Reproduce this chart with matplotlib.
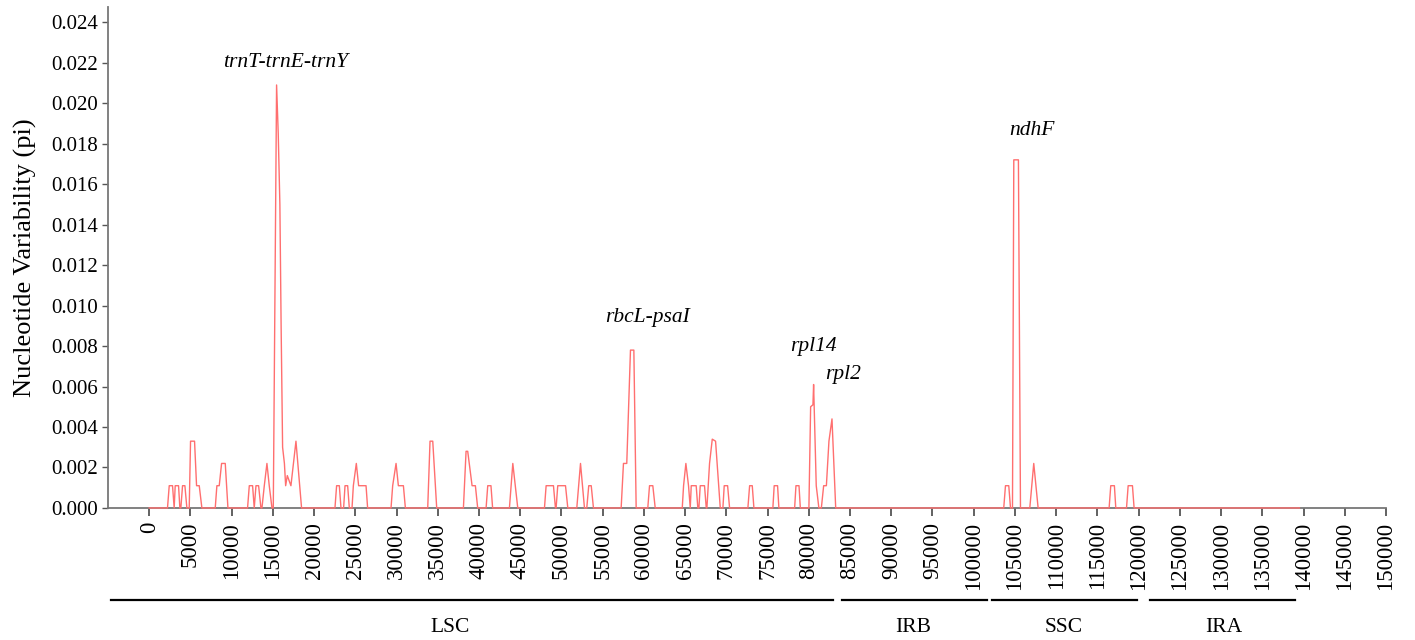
import matplotlib
matplotlib.use("Agg")
import matplotlib.pyplot as plt
import matplotlib.transforms as mtransforms

plt.rcParams['font.family'] = ['Liberation Serif', 'DejaVu Serif']

# sliding-window breakpoints (position in bp, pi)
pos = [0,
       2220, 2430, 2830, 3030, 3155, 3560, 3720,
       3840, 4045, 4330, 4570,
       4855, 5015, 5500, 5745, 6070, 6390,
       8010, 8210, 8495, 8780, 9225, 9550,
       11930, 12140, 12540, 12740, 12950, 13270, 13550,
       13675, 13960, 14280, 14560, 14890,
       15050, 15450, 15650, 15850, 16000, 16180, 16400, 16550, 16750, 17190, 17800, 18480,
       22530, 22730, 23060, 23260,
       23580, 23750, 24070, 24270,
       24600, 24760, 25120, 25400, 26300, 26490,
       29330, 29530, 29940, 30220, 30830, 31070,
       33780, 34060, 34390, 34870,
       38110, 38430, 38630, 39160, 39560, 39840,
       40860, 41060, 41450, 41650,
       43690, 44100, 44700,
       47940, 48140, 49030, 49270,
       49350, 49550, 50490, 50770,
       51860, 52310, 52790,
       53070, 53310, 53610, 53880,
       57240, 57520, 57920, 58370, 58780, 59060,
       60470, 60680, 61080, 61370,
       64650, 64810, 65090, 65410, 65620,
       65740, 66340, 66540,
       66670, 66830, 67350, 67560,
       67640, 67960, 68290, 68690, 69260,
       69580, 69740, 70150, 70390,
       72610, 72820, 73140, 73340,
       75640, 75800, 76210, 76370,
       78280, 78440, 78810, 78970,
       80010, 80220, 80500, 80580, 80900, 81220,
       81520, 81800, 82130, 82440, 82810, 83260,
       103640, 103850, 104250, 104460,
       104700, 104860, 105420, 105670,
       106800, 107280, 107810,
       116420, 116620, 117060, 117230,
       118530, 118730, 119250, 119450,
       139500]
pi = [0,
      0, .0011, .0011, 0, .0011, .0011, 0,
      0, .0011, .0011, 0,
      0, .0033, .0033, .0011, .0011, 0,
      0, .0011, .0011, .0022, .0022, 0,
      0, .0011, .0011, 0, .0011, .0011, 0,
      0, .0011, .0022, .0011, 0,
      0, .0209, .0185, .0150, .0090, .0030, .0022, .0011, .0016, .0011, .0033, 0,
      0, .0011, .0011, 0,
      0, .0011, .0011, 0,
      0, .0011, .0022, .0011, .0011, 0,
      0, .0011, .0022, .0011, .0011, 0,
      0, .0033, .0033, 0,
      0, .0028, .0028, .0011, .0011, 0,
      0, .0011, .0011, 0,
      0, .0022, 0,
      0, .0011, .0011, 0,
      0, .0011, .0011, 0,
      0, .0022, 0,
      0, .0011, .0011, 0,
      0, .0022, .0022, .0078, .0078, 0,
      0, .0011, .0011, 0,
      0, .0011, .0022, .0011, 0,
      .0011, .0011, 0,
      0, .0011, .0011, 0,
      0, .0022, .0034, .0033, 0,
      0, .0011, .0011, 0,
      0, .0011, .0011, 0,
      0, .0011, .0011, 0,
      0, .0011, .0011, 0,
      0, .0050, .0051, .0061, .0011, 0,
      0, .0011, .0011, .0033, .0044, 0,
      0, .0011, .0011, 0,
      0, .0172, .0172, 0,
      0, .0022, 0,
      0, .0011, .0011, 0,
      0, .0011, .0011, 0,
      0]

genes = ['trnT-trnE-trnY', 'rbcL-psaI', 'rpl14', 'rpl2', 'ndhF']
gene_x = [16500, 60440, 80580, 84100, 107040]
gene_y = [0.02203, 0.00939, 0.0080, 0.00657, 0.01867]

regions = ['LSC', 'IRB', 'SSC', 'IRA']
region_start = [-4600, 84000, 102200, 121400]
region_end = [82900, 101600, 119800, 139000]
region_label_x = [36500, 92700, 110900, 130300]

xticks = list(range(0, 150001, 5000))
yticks = [i * 0.002 for i in range(13)]

fig = plt.figure(figsize=(14.15, 6.4), dpi=100)
ax = fig.add_axes([0.0763, 0.2063, 0.9032, 0.7827])

ax.plot(pos, pi, color='#ff6f6f', lw=1.0, zorder=3, clip_on=False)

ax.set_xlim(-5000, 150000)
ax.set_ylim(0, 0.02475)
ax.set_xticks(xticks)
ax.set_xticklabels([str(t) for t in xticks], rotation=90, fontsize=16.5)
ax.set_yticks(yticks)
ax.set_yticklabels(['%.3f' % t for t in yticks], fontsize=15)
ax.tick_params(axis='x', direction='out', length=6, width=1.3, color='#555555', pad=4)
ax.tick_params(axis='y', direction='out', length=4, width=1.0, color='#555555', pad=3)

for s in ['top', 'right']:
    ax.spines[s].set_visible(False)
for s in ['left', 'bottom']:
    ax.spines[s].set_color('#777777')
    ax.spines[s].set_linewidth(1.3)

ax.set_ylabel('Nucleotide Variability (pi)', fontsize=19, labelpad=10)

for g, gx, gy in zip(genes, gene_x, gene_y):
    ax.text(gx, gy, g, ha='center', va='center', style='italic', fontsize=15.5)

trans = mtransforms.blended_transform_factory(ax.transData, ax.transAxes)
for r, x0, x1, lx in zip(regions, region_start, region_end, region_label_x):
    ax.plot([x0, x1], [-0.1836, -0.1836], color='black', lw=1.6,
            transform=trans, clip_on=False)
    ax.text(lx, -0.2395, r, ha='center', va='center', fontsize=15.5,
            transform=trans)

fig.savefig('out.png', dpi=100)
